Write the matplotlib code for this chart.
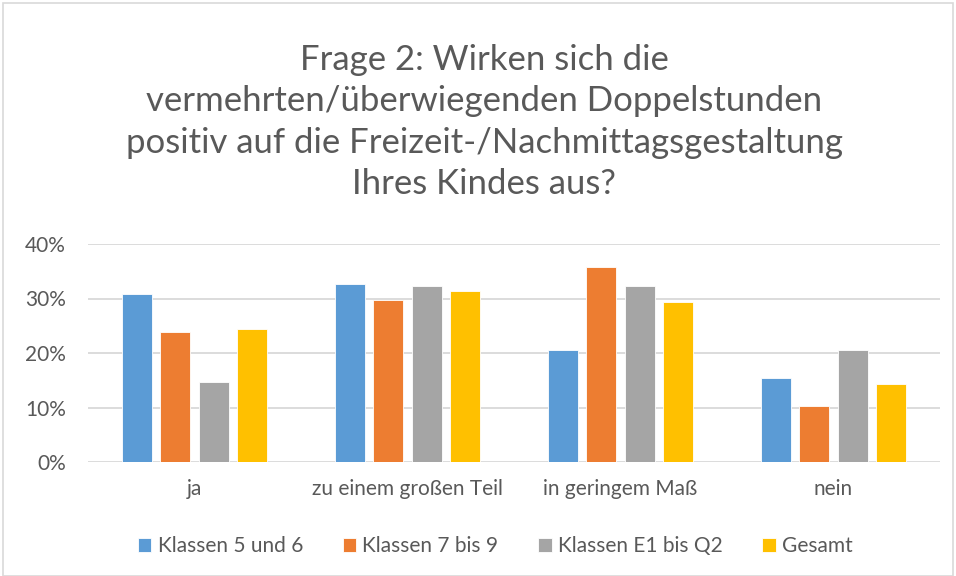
import numpy as np
import matplotlib
matplotlib.use("Agg")
from matplotlib import pyplot as plt
from matplotlib.patches import Rectangle

plt.rcParams['font.family'] = ['Lato', 'DejaVu Sans']

categories = ["ja", "zu einem großen Teil", "in geringem Maß", "nein"]
series_names = ["Klassen 5 und 6", "Klassen 7 bis 9", "Klassen E1 bis Q2", "Gesamt"]
klassen_5_6 = [30.9, 32.7, 20.6, 15.5]
klassen_7_9 = [23.8, 29.8, 35.8, 10.3]
klassen_e1_q2 = [14.6, 32.3, 32.3, 20.5]
gesamt = [24.4, 31.3, 29.4, 14.4]
colors = ["#5B9BD5", "#ED7D31", "#A5A5A5", "#FFC000"]
title = ("Frage 2: Wirken sich die\nvermehrten/überwiegenden Doppelstunden\n"
         "positiv auf die Freizeit-/Nachmittagsgestaltung\nIhres Kindes aus?")

fig = plt.figure(figsize=(9.56, 5.76), dpi=100)
ax = fig.add_axes([88/956, 1-462/576, 852/956, 218/576])

x = np.arange(len(categories))
pitch = 0.181
width = 0.141
for i, (vals, name) in enumerate(zip([klassen_5_6, klassen_7_9, klassen_e1_q2, gesamt], series_names)):
    ax.bar(x + (i - 1.5) * pitch, vals, width, color=colors[i], label=name,
           edgecolor="white", linewidth=0.6, zorder=3)

ax.set_xlim(-0.5, len(categories) - 0.5)
ax.set_ylim(0, 40)
ax.set_yticks([0, 10, 20, 30, 40])
ax.set_yticklabels([f"{v}%" for v in [0, 10, 20, 30, 40]])
ax.grid(axis="y", color="#D9D9D9", linewidth=1.3, zorder=0)
ax.set_xticks(x)
ax.set_xticklabels(categories)
for s in ax.spines.values():
    s.set_visible(False)
ax.tick_params(axis="both", length=0, labelsize=15, colors="#595959")
ax.tick_params(axis="x", pad=12)
ax.tick_params(axis="y", pad=16)

fig.text(484/956, 1-122/576, title, ha="center", va="center", fontsize=25,
         color="#595959", linespacing=1.36)

ax.legend(loc="center", bbox_to_anchor=(0.478, -0.385), ncol=4, frameon=False,
          fontsize=15, labelcolor="#595959", handlelength=0.65, handleheight=0.65,
          handletextpad=0.3, columnspacing=1.9)

fig.patches.append(Rectangle((3/956, 0), 1 - 6/956, 1 - 3/576, transform=fig.transFigure,
                             fill=False, edgecolor="#D9D9D9", linewidth=1.2))

fig.savefig("out.png", dpi=100)
